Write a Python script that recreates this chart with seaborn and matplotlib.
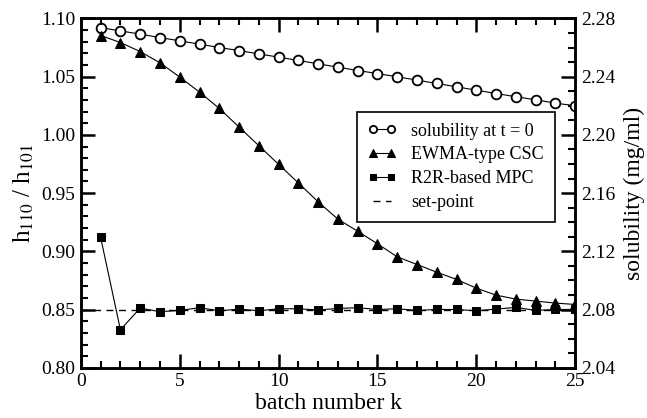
import numpy as np
import pandas as pd
import matplotlib
matplotlib.use('Agg')
import matplotlib.pyplot as plt
import seaborn as sns
from matplotlib.ticker import MultipleLocator, FormatStrFormatter

# batch numbers
batch = list(range(1, 26))

# solubility at t = 0 (mg/ml, right axis)
solubility = [2.2737, 2.2714, 2.2692, 2.2668, 2.2646, 2.2623, 2.2600, 2.2579,
              2.2556, 2.2534, 2.2511, 2.2488, 2.2465, 2.2442, 2.2421, 2.2399,
              2.2376, 2.2353, 2.2330, 2.2307, 2.2284, 2.2262, 2.2241, 2.2218,
              2.2200]

# EWMA-type CSC (h110/h101)
ewma = [1.0853, 1.0793, 1.0715, 1.0619, 1.0496, 1.0367, 1.0227, 1.0067,
        0.9907, 0.9747, 0.9587, 0.9425, 0.9276, 0.9173, 0.9065, 0.8953,
        0.8887, 0.8821, 0.8759, 0.8684, 0.8624, 0.8590, 0.8573, 0.8556,
        0.8544]

# R2R-based MPC (h110/h101)
mpc = [0.9119, 0.8327, 0.8513, 0.8482, 0.8493, 0.8516, 0.8490, 0.8504,
       0.8490, 0.8507, 0.8507, 0.8497, 0.8510, 0.8516, 0.8501, 0.8507,
       0.8493, 0.8501, 0.8501, 0.8490, 0.8504, 0.8519, 0.8493, 0.8501,
       0.8501]

setpoint = 0.85

df = pd.DataFrame({'k': batch, 'sol': solubility, 'ewma': ewma, 'mpc': mpc})

sns.set_style('ticks')
plt.rcParams['font.family'] = ['Liberation Serif', 'DejaVu Serif']
plt.rcParams['mathtext.fontset'] = 'stix'
plt.rcParams['axes.edgecolor'] = 'black'
plt.rcParams['xtick.color'] = 'black'
plt.rcParams['ytick.color'] = 'black'
plt.rcParams['axes.labelcolor'] = 'black'
plt.rcParams['text.color'] = 'black'

fig = plt.figure(figsize=(6.47, 4.18), dpi=100)
ax = fig.add_axes([0.125, 0.12, 0.764, 0.836])
ax2 = ax.twinx()

# set-point dashed line
ax.plot([0, 25], [setpoint, setpoint], color='black', linestyle=(0, (5, 4)), linewidth=1.0, label='set-point')

sns.lineplot(data=df, x='k', y='ewma', ax=ax, color='black', marker='^', markersize=7,
             linewidth=0.8, markeredgecolor='black', label='EWMA-type CSC', legend=False)
sns.lineplot(data=df, x='k', y='mpc', ax=ax, color='black', marker='s', markersize=6,
             linewidth=0.8, markeredgecolor='black', label='R2R-based MPC', legend=False)
sns.lineplot(data=df, x='k', y='sol', ax=ax2, color='black', marker='o', markersize=7,
             linewidth=0.8, markerfacecolor='white', markeredgecolor='black', markeredgewidth=1.3,
             label='solubility at t = 0', legend=False)

ax.set_xlim(0, 25)
ax.set_ylim(0.80, 1.10)
ax2.set_ylim(2.04, 2.28)

ax.xaxis.set_major_locator(MultipleLocator(5))
ax.xaxis.set_minor_locator(MultipleLocator(1))
ax.yaxis.set_major_locator(MultipleLocator(0.05))
ax.yaxis.set_minor_locator(MultipleLocator(0.01))
ax.yaxis.set_major_formatter(FormatStrFormatter('%.2f'))
ax2.yaxis.set_major_locator(MultipleLocator(0.04))
ax2.yaxis.set_minor_locator(MultipleLocator(0.01))
ax2.yaxis.set_major_formatter(FormatStrFormatter('%.2f'))

for a in (ax, ax2):
    for s in a.spines.values():
        s.set_linewidth(1.8)
        s.set_color('black')
        s.set_visible(True)
ax.tick_params(which='major', direction='in', length=10, width=1.8, labelsize=14, top=True, right=False, pad=4)
ax.tick_params(which='minor', direction='in', length=5, width=1.5, top=True, right=False)
ax2.tick_params(which='major', direction='in', length=10, width=1.8, labelsize=14, pad=4)
ax2.tick_params(which='minor', direction='in', length=5, width=1.5)

ax.set_xlabel('batch number k', fontsize=17, labelpad=2)
ax.set_ylabel(r'h$_{110}$ / h$_{101}$', fontsize=18, labelpad=4)
ax2.set_ylabel('solubility (mg/ml)', fontsize=17, labelpad=6)

h1, l1 = ax.get_legend_handles_labels()
h2, l2 = ax2.get_legend_handles_labels()
handles = {l: h for h, l in zip(h1 + h2, l1 + l2)}
order = ['solubility at t = 0', 'EWMA-type CSC', 'R2R-based MPC', 'set-point']
leg = ax.legend([handles[o] for o in order], order, loc='upper left',
                bbox_to_anchor=(0.559, 0.733), borderaxespad=0, numpoints=2,
                markerscale=0.75, fontsize=13, frameon=True, fancybox=False,
                edgecolor='black', handlelength=1.6, borderpad=0.6, labelspacing=0.38)
leg.get_frame().set_linewidth(1.2)
leg.get_frame().set_alpha(1)
leg.set_zorder(10)
ax.set_zorder(ax2.get_zorder() + 1)
ax.patch.set_visible(False)

fig.savefig('out.png', dpi=100)
